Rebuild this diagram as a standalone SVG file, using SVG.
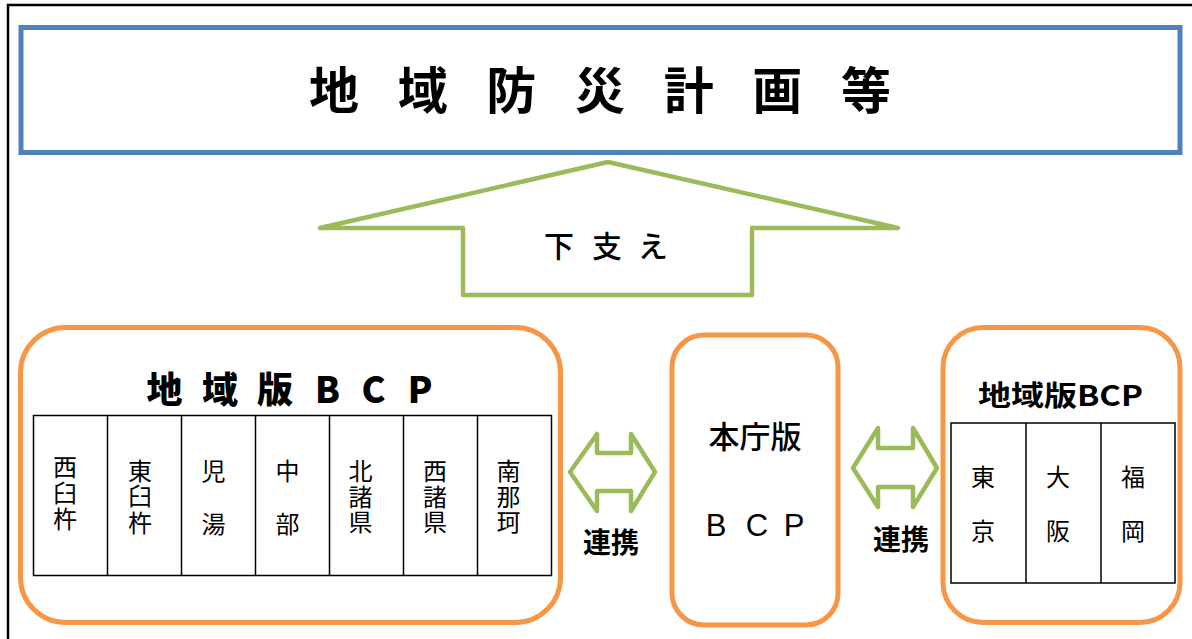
<svg xmlns="http://www.w3.org/2000/svg" width="1192" height="639" viewBox="0 0 1192 639">
<style>
.jp{font-family:"Noto Sans CJK JP","Liberation Sans",sans-serif;fill:#000}
.b{font-weight:700}
.cell{font-size:24px;text-anchor:middle}
.mid{text-anchor:middle}
.org{fill:#fff;stroke:#F79646;stroke-width:5}
.grn{fill:#fff;stroke:#9BBB59;stroke-width:4.5;stroke-linejoin:round}
.tbl{fill:none;stroke:#000;stroke-width:1.5}
</style>
<rect x="0" y="0" width="1192" height="639" fill="#fff"/>
<rect x="8" y="5" width="1200" height="660" fill="none" stroke="#000" stroke-width="2.5"/>
<g id="plan">
<rect x="21" y="27.5" width="1159" height="125" fill="#fff" stroke="#4F81BD" stroke-width="5"/>
<text class="jp b mid" font-size="50" y="109" x="334 378 422.7 467 511.3 556 600 644 688.7 733 777.3 822 866">地 域 防 災 計 画 等</text>
</g>
<g id="connectors">
<polygon id="support" class="grn" points="608,162 898,228 752,228 752,295 463,295 463,228 320,228"/>
<polygon id="link-left" class="grn" points="570,472 597,434 597,453 631,453 631,434 655,472 631,511 631,491 597,491 597,511"/>
<polygon id="link-right" class="grn" points="853,468 878,428 878,448 913,448 913,428 937,468 913,507 913,487 878,487 878,507"/>
<text class="jp mid" font-size="30" font-weight="500" y="257" x="559 583 607 630 653">下 支 え</text>
<text class="jp b mid" font-size="28" x="611" y="553">連携</text>
<text class="jp b mid" font-size="28" x="901" y="550">連携</text>
</g>
<g id="regional-left">
<rect class="org" x="20.5" y="327.5" width="540" height="295" rx="45"/>
<text class="jp mid" font-size="36" font-weight="900" y="403" x="164.5 192 220 247 275 301 327.5 350 373.5 397 420">地 域 版 B C P</text>
<rect class="tbl" x="33.5" y="415.5" width="518" height="160"/>
<path class="tbl" d="M107.5 415.5V575.5M181.5 415.5V575.5M255.5 415.5V575.5M329.5 415.5V575.5M403.5 415.5V575.5M477.5 415.5V575.5"/>
<g class="jp cell">
<text x="65" y="476">西</text><text x="65" y="502">臼</text><text x="65" y="528">杵</text>
<text x="140" y="480">東</text><text x="140" y="505">臼</text><text x="140" y="532">杵</text>
<text x="213.5" y="480">児</text><text x="213.5" y="533">湯</text>
<text x="287.5" y="480">中</text><text x="287.5" y="533">部</text>
<text x="360.5" y="480">北</text><text x="360.5" y="506">諸</text><text x="360.5" y="531">県</text>
<text x="435" y="480">西</text><text x="435" y="506">諸</text><text x="435" y="531">県</text>
<text x="508.5" y="480">南</text><text x="508.5" y="506">那</text><text x="508.5" y="531">珂</text>
</g>
</g>
<g id="honcho">
<rect class="org" x="672" y="335" width="166" height="290" rx="32"/>
<text class="jp mid" font-size="31" font-weight="500" x="755" y="448">本庁版</text>
<text class="mid" font-family="Liberation Sans, Arial, sans-serif" font-size="31" y="536" x="716 736 757 776 794">B C P</text>
</g>
<g id="regional-right">
<rect class="org" x="943" y="327.5" width="237" height="295" rx="40"/>
<text class="jp b" font-size="28" font-weight="900" x="978" y="406" textLength="165" lengthAdjust="spacingAndGlyphs">地域版BCP</text>
<rect class="tbl" x="951" y="423" width="224" height="160"/>
<path class="tbl" d="M1026 423V583M1101 423V583"/>
<g class="jp cell">
<text x="983" y="486">東</text><text x="983" y="540">京</text>
<text x="1058" y="486">大</text><text x="1058" y="540">阪</text>
<text x="1133" y="486">福</text><text x="1133" y="540">岡</text>
</g>
</g>
</svg>
